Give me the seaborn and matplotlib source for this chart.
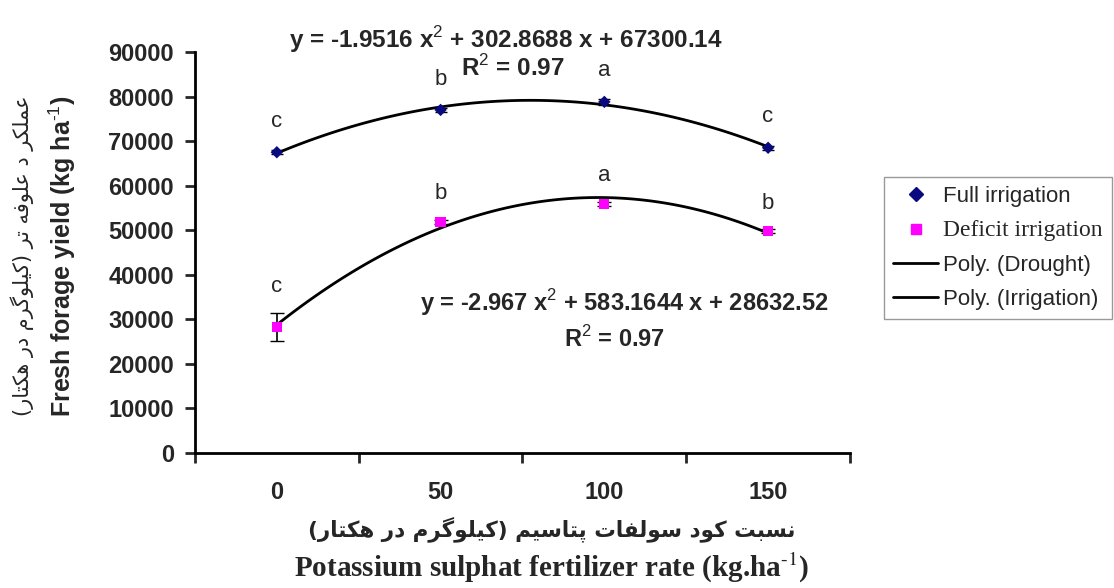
import numpy as np
import matplotlib
matplotlib.use('Agg')
import matplotlib.pyplot as plt
from matplotlib.lines import Line2D
import seaborn as sns

# ---- data ----
potassium = [0, 50, 100, 150]
full_yield = [67500, 77000, 78800, 68500]
full_err = [500, 500, 600, 500]
deficit_yield = [28300, 51900, 55900, 49800]
deficit_err = [3200, 500, 500, 500]
full_letters = ['c', 'b', 'a', 'c']
deficit_letters = ['c', 'b', 'a', 'b']
yticks = list(range(0, 90001, 10000))

eq_full = 'y = -1.9516 x$^{2}$ + 302.8688 x + 67300.14'
eq_deficit = 'y = -2.967 x$^{2}$ + 583.1644 x + 28632.52'
r2_text = 'R$^{2}$ = 0.97'
legend_labels = ['Full irrigation', 'Deficit irrigation', 'Poly. (Drought)', 'Poly. (Irrigation)']

ylabel_fa = 'عملکر د علوفه تر (کیلوگرم در هکتار)'
xlabel_fa = 'نسبت کود سولفات پتاسیم (کیلوگرم در هکتار)'
ylabel_en = 'Fresh forage yield (kg ha$^{\\text{-}1}$)'
xlabel_en = 'Potassium sulphat fertilizer rate (kg.ha$^{\\text{-}1}$)'

# ---- tiny Persian shaper (matplotlib has no Arabic shaping / bidi) ----
FORMS = {
    'ا': ('\uFE8D', '\uFE8E', None, None),
    'د': ('\uFEA9', '\uFEAA', None, None),
    'ر': ('\uFEAD', '\uFEAE', None, None),
    'و': ('\uFEED', '\uFEEE', None, None),
    'ب': ('\uFE8F', '\uFE90', '\uFE91', '\uFE92'),
    'ت': ('\uFE95', '\uFE96', '\uFE97', '\uFE98'),
    'س': ('\uFEB1', '\uFEB2', '\uFEB3', '\uFEB4'),
    'ع': ('\uFEC9', '\uFECA', '\uFECB', '\uFECC'),
    'ف': ('\uFED1', '\uFED2', '\uFED3', '\uFED4'),
    'ل': ('\uFEDD', '\uFEDE', '\uFEDF', '\uFEE0'),
    'م': ('\uFEE1', '\uFEE2', '\uFEE3', '\uFEE4'),
    'ن': ('\uFEE5', '\uFEE6', '\uFEE7', '\uFEE8'),
    'ه': ('\uFEE9', '\uFEEA', '\uFEEB', '\uFEEC'),
    'پ': ('\uFB56', '\uFB57', '\uFB58', '\uFB59'),
    'ک': ('\uFB8E', '\uFB8F', '\uFB90', '\uFB91'),
    'گ': ('\uFB92', '\uFB93', '\uFB94', '\uFB95'),
    'ی': ('\uFBFC', '\uFBFD', '\uFBFE', '\uFBFF'),
}


def shape_fa(text):
    out = []
    for i, ch in enumerate(text):
        if ch not in FORMS:
            out.append(ch)
            continue
        prev = text[i - 1] if i > 0 else ''
        nxt = text[i + 1] if i + 1 < len(text) else ''
        iso, fin, ini, med = FORMS[ch]
        j_prev = prev in FORMS and FORMS[prev][2] is not None
        j_next = ini is not None and nxt in FORMS
        if j_prev and j_next:
            out.append(med)
        elif j_prev:
            out.append(fin)
        elif j_next:
            out.append(ini)
        else:
            out.append(iso)
    vis = ''.join(reversed(out))
    return vis.translate(str.maketrans('()', ')('))


sns.set_theme(style='white')
plt.rcParams['font.family'] = ['Liberation Sans', 'DejaVu Sans']
plt.rcParams['mathtext.fontset'] = 'custom'
plt.rcParams['mathtext.rm'] = 'Liberation Sans'
plt.rcParams['mathtext.bf'] = 'Liberation Sans:bold'

fig = plt.figure(figsize=(11.14, 5.88), dpi=100)
ax = fig.add_axes([0.175, 0.2296, 0.588, 0.682])

# trend lines (2nd order fit)
sns.regplot(x=potassium, y=full_yield, order=2, ci=None, scatter=False,
            line_kws=dict(color='black', lw=2), ax=ax)
sns.regplot(x=potassium, y=deficit_yield, order=2, ci=None, scatter=False,
            line_kws=dict(color='black', lw=2), ax=ax)

ax.errorbar(potassium, full_yield, yerr=full_err, fmt='none', ecolor='black',
            elinewidth=1, capsize=4, zorder=3)
ax.errorbar(potassium, deficit_yield, yerr=deficit_err, fmt='none', ecolor='black',
            elinewidth=1.2, capsize=5, zorder=3)
sns.scatterplot(x=potassium, y=full_yield, marker='D', color='#0a0a80', s=40,
                edgecolor='none', zorder=4, ax=ax)
sns.scatterplot(x=potassium, y=deficit_yield, marker='s', color='#ff00ff', s=55,
                edgecolor='none', zorder=4, ax=ax)

# significance letters
for x, y, e, t in zip(potassium, full_yield, full_err, full_letters):
    ax.annotate(t, (x, y + e), xytext=(0, 13), textcoords='offset points',
                ha='center', va='bottom', fontsize=16)
for x, y, e, t in zip(potassium, deficit_yield, deficit_err, deficit_letters):
    ax.annotate(t, (x, y + e), xytext=(0, 11), textcoords='offset points',
                ha='center', va='bottom', fontsize=16)

# equations
ax.text(0.475, 1.03, eq_full, transform=ax.transAxes, ha='center', va='center',
        fontsize=17.5, fontweight='bold', clip_on=False)
ax.text(0.485, 0.96, r2_text, transform=ax.transAxes, ha='center', va='center',
        fontsize=17.5, fontweight='bold')
ax.text(0.655, 0.375, eq_deficit, transform=ax.transAxes, ha='center', va='center',
        fontsize=17, fontweight='bold')
ax.text(0.64, 0.285, r2_text, transform=ax.transAxes, ha='center', va='center',
        fontsize=17, fontweight='bold')

# axes styling
ax.set_xlim(-25, 175)
ax.set_ylim(0, 90000)
ax.set_yticks(yticks)
ax.set_yticklabels([str(v) for v in yticks], fontsize=17, fontweight='bold')
ax.set_xticks(potassium)
ax.set_xticklabels([str(v) for v in potassium], fontsize=17, fontweight='bold')
ax.set_xticks([-25, 25, 75, 125, 175], minor=True)
ax.tick_params(axis='x', which='major', length=0, pad=20)
ax.tick_params(axis='x', which='minor', length=7, width=2, direction='out', bottom=True)
ax.tick_params(axis='y', length=7, width=2, direction='out', left=True, pad=8)
for s in ['top', 'right']:
    ax.spines[s].set_visible(False)
for s in ['left', 'bottom']:
    ax.spines[s].set_color('black')
    ax.spines[s].set_linewidth(2)
ax.set_xlabel('')
ax.set_ylabel('')

# axis titles
fig.text(0.056, 0.565, ylabel_en, rotation=90, ha='center', va='center',
         fontsize=18, fontweight='bold')
fig.text(0.02, 0.565, shape_fa(ylabel_fa), rotation=90, ha='center', va='center',
         fontsize=15, family='DejaVu Sans')
fig.text(0.495, 0.1, shape_fa(xlabel_fa), ha='center', va='center',
         fontsize=15.5, fontweight='bold', family='DejaVu Sans')
fig.text(0.495, 0.034, xlabel_en, ha='center', va='center', fontsize=21,
         fontweight='bold', family='Liberation Serif', math_fontfamily='stix')

# legend
handles = [
    Line2D([], [], marker='D', color='#0a0a80', ls='none', markersize=7),
    Line2D([], [], marker='s', color='#ff00ff', ls='none', markersize=7),
    Line2D([], [], color='black', lw=2),
    Line2D([], [], color='black', lw=2),
]
leg = fig.legend(handles, legend_labels, loc='center left',
                 bbox_to_anchor=(0.784, 0.578), frameon=True, fancybox=False,
                 edgecolor='#808080', fontsize=16, handlelength=2.0,
                 handletextpad=0.25, labelspacing=0.6, borderpad=0.4)
leg.get_frame().set_linewidth(1)
leg.get_texts()[1].set_family('Liberation Serif')
leg.get_texts()[1].set_fontsize(17)

fig.savefig('out.png', dpi=100)
